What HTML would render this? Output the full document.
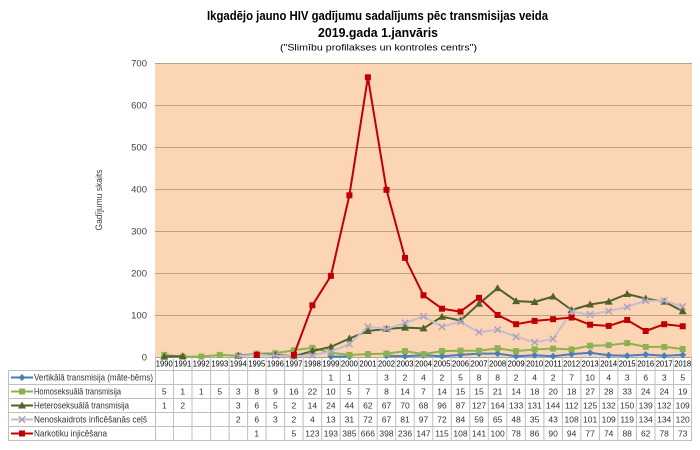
<!DOCTYPE html>
<html><head><meta charset="utf-8"><style>
html,body{margin:0;padding:0;background:#fff;}
svg{display:block;font-family:"Liberation Sans",sans-serif;}
</style></head><body>
<svg width="700" height="450" viewBox="0 0 700 450" xmlns="http://www.w3.org/2000/svg">
<defs>
<path id="dm" d="M0,-3.5L3.5,0L0,3.5L-3.5,0Z"/>
<rect id="sq" x="-3" y="-3" width="6" height="6"/>
<path id="tr" d="M0,-4L4,3L-4,3Z"/>
<path id="cx" d="M-3.2,-3.2L3.2,3.2M3.2,-3.2L-3.2,3.2" fill="none"/>
</defs>
<rect width="700" height="450" fill="#fff"/>
<!-- titles -->
<text x="207" y="20" font-size="12.5" font-weight="bold" textLength="341" lengthAdjust="spacingAndGlyphs" fill="#000">Ikgadējo jauno HIV gadījumu sadalījums pēc transmisijas veida</text>
<text x="318" y="37" font-size="12.5" font-weight="bold" textLength="120" lengthAdjust="spacingAndGlyphs" fill="#000">2019.gada 1.janvāris</text>
<text x="280" y="50.5" font-size="9.5" textLength="197" lengthAdjust="spacingAndGlyphs" fill="#000">("Slimību profilakses un kontroles centrs")</text>
<!-- plot area -->
<rect x="155" y="63" width="537" height="294" fill="#FCD5B4"/>
<g stroke="#BBA08C" stroke-width="1">
<line x1="155" y1="63.5" x2="692" y2="63.5"/>
<line x1="155" y1="105.5" x2="692" y2="105.5"/>
<line x1="155" y1="147.5" x2="692" y2="147.5"/>
<line x1="155" y1="189.5" x2="692" y2="189.5"/>
<line x1="155" y1="231.5" x2="692" y2="231.5"/>
<line x1="155" y1="273.5" x2="692" y2="273.5"/>
<line x1="155" y1="315.5" x2="692" y2="315.5"/>
</g>
<line x1="155" y1="357.5" x2="692" y2="357.5" stroke="#A6A6A6"/>
<!-- y ticks -->
<g font-size="9.5" fill="#404040" text-anchor="end">
<text x="147" y="66.5">700</text>
<text x="147" y="108.5">600</text>
<text x="147" y="150.5">500</text>
<text x="147" y="192.5">400</text>
<text x="147" y="234.5">300</text>
<text x="147" y="276.5">200</text>
<text x="147" y="318.5">100</text>
<text x="147" y="360.5">0</text>
</g>
<text transform="translate(102,200) rotate(-90)" font-size="9" text-anchor="middle" textLength="61" lengthAdjust="spacingAndGlyphs" fill="#404040">Gadījumu skaits</text>
<!-- table grid -->
<g stroke="#BFBFBF" stroke-width="1" fill="none">
<path d="M8.5,370.5H692M8.5,384.5H692M8.5,398.5H692M8.5,412.5H692M8.5,426.5H692M8.5,440.5H692M8.5,370.5V440.5"/>
<path d="M155.5,357V440.5M173.5,357V440.5M192,357V440.5M210.6,357V440.5M229.1,357V440.5M247.6,357V440.5M266.1,357V440.5M284.6,357V440.5M303.1,357V440.5M321.7,357V440.5M340.2,357V440.5M358.7,357V440.5M377.2,357V440.5M395.7,357V440.5M414.2,357V440.5M432.8,357V440.5M451.3,357V440.5M469.8,357V440.5M488.3,357V440.5M506.8,357V440.5M525.3,357V440.5M543.9,357V440.5M562.4,357V440.5M580.9,357V440.5M599.4,357V440.5M617.9,357V440.5M636.4,357V440.5M655,357V440.5M673.5,357V440.5M691.5,357V440.5"/>
</g>
<!-- series: vertical -->
<g stroke="#4A7EBB" stroke-width="2" fill="none" stroke-linejoin="round">
<polyline points="330.9,356.6 349.4,356.6"/>
<polyline points="386.5,355.7 405.0,356.2 423.5,355.3 442.0,356.2 460.5,354.9 479.0,353.6 497.6,353.6 516.1,356.2 534.6,355.3 553.1,356.2 571.6,354.1 590.1,352.8 608.7,355.3 627.2,355.7 645.7,354.5 664.2,355.7 682.7,354.9"/>
</g>
<g fill="#4A7EBB">
<use href="#dm" x="330.9" y="356.6"/><use href="#dm" x="349.4" y="356.6"/><use href="#dm" x="386.5" y="355.7"/><use href="#dm" x="405" y="356.2"/><use href="#dm" x="423.5" y="355.3"/><use href="#dm" x="442" y="356.2"/><use href="#dm" x="460.5" y="354.9"/><use href="#dm" x="479" y="353.6"/><use href="#dm" x="497.6" y="353.6"/><use href="#dm" x="516.1" y="356.2"/><use href="#dm" x="534.6" y="355.3"/><use href="#dm" x="553.1" y="356.2"/><use href="#dm" x="571.6" y="354.1"/><use href="#dm" x="590.1" y="352.8"/><use href="#dm" x="608.7" y="355.3"/><use href="#dm" x="627.2" y="355.7"/><use href="#dm" x="645.7" y="354.5"/><use href="#dm" x="664.2" y="355.7"/><use href="#dm" x="682.7" y="354.9"/>
</g>
<!-- homo -->
<polyline fill="none" stroke="#8DB150" stroke-width="2" stroke-linejoin="round" points="164.3,354.9 182.8,356.6 201.3,356.6 219.8,354.9 238.3,355.7 256.8,353.6 275.4,353.2 293.9,350.3 312.4,347.8 330.9,352.8 349.4,354.9 367.9,354.1 386.5,353.6 405.0,351.1 423.5,354.1 442.0,351.1 460.5,350.7 479.0,350.7 497.6,348.2 516.1,351.1 534.6,349.4 553.1,348.6 571.6,349.4 590.1,345.7 608.7,345.2 627.2,343.1 645.7,346.9 664.2,346.9 682.7,349.0"/>
<g fill="#8DB150">
<use href="#sq" x="164.3" y="354.9"/><use href="#sq" x="182.8" y="356.6"/><use href="#sq" x="201.3" y="356.6"/><use href="#sq" x="219.8" y="354.9"/><use href="#sq" x="238.3" y="355.7"/><use href="#sq" x="256.8" y="353.6"/><use href="#sq" x="275.4" y="353.2"/><use href="#sq" x="293.9" y="350.3"/><use href="#sq" x="312.4" y="347.8"/><use href="#sq" x="330.9" y="352.8"/><use href="#sq" x="349.4" y="354.9"/><use href="#sq" x="367.9" y="354.1"/><use href="#sq" x="386.5" y="353.6"/><use href="#sq" x="405" y="351.1"/><use href="#sq" x="423.5" y="354.1"/><use href="#sq" x="442" y="351.1"/><use href="#sq" x="460.5" y="350.7"/><use href="#sq" x="479" y="350.7"/><use href="#sq" x="497.6" y="348.2"/><use href="#sq" x="516.1" y="351.1"/><use href="#sq" x="534.6" y="349.4"/><use href="#sq" x="553.1" y="348.6"/><use href="#sq" x="571.6" y="349.4"/><use href="#sq" x="590.1" y="345.7"/><use href="#sq" x="608.7" y="345.2"/><use href="#sq" x="627.2" y="343.1"/><use href="#sq" x="645.7" y="346.9"/><use href="#sq" x="664.2" y="346.9"/><use href="#sq" x="682.7" y="349"/>
</g>
<!-- hetero -->
<g stroke="#4F6228" stroke-width="2" fill="none" stroke-linejoin="round">
<polyline points="164.3,356.6 182.8,356.2"/>
<polyline points="238.3,355.7 256.8,354.5 275.4,354.9 293.9,356.2 312.4,351.1 330.9,346.9 349.4,338.5 367.9,331.0 386.5,328.9 405.0,327.6 423.5,328.4 442.0,316.7 460.5,320.5 479.0,303.7 497.6,288.1 516.1,301.1 534.6,302.0 553.1,296.5 571.6,310.0 590.1,304.5 608.7,301.6 627.2,294.0 645.7,298.6 664.2,301.6 682.7,311.2"/>
</g>
<g fill="#4F6228">
<use href="#tr" x="164.3" y="356.6"/><use href="#tr" x="182.8" y="356.2"/><use href="#tr" x="238.3" y="355.7"/><use href="#tr" x="256.8" y="354.5"/><use href="#tr" x="275.4" y="354.9"/><use href="#tr" x="293.9" y="356.2"/><use href="#tr" x="312.4" y="351.1"/><use href="#tr" x="330.9" y="346.9"/><use href="#tr" x="349.4" y="338.5"/><use href="#tr" x="367.9" y="331"/><use href="#tr" x="386.5" y="328.9"/><use href="#tr" x="405" y="327.6"/><use href="#tr" x="423.5" y="328.4"/><use href="#tr" x="442" y="316.7"/><use href="#tr" x="460.5" y="320.5"/><use href="#tr" x="479" y="303.7"/><use href="#tr" x="497.6" y="288.1"/><use href="#tr" x="516.1" y="301.1"/><use href="#tr" x="534.6" y="302"/><use href="#tr" x="553.1" y="296.5"/><use href="#tr" x="571.6" y="310"/><use href="#tr" x="590.1" y="304.5"/><use href="#tr" x="608.7" y="301.6"/><use href="#tr" x="627.2" y="294"/><use href="#tr" x="645.7" y="298.6"/><use href="#tr" x="664.2" y="301.6"/><use href="#tr" x="682.7" y="311.2"/>
</g>
<!-- neno -->
<polyline fill="none" stroke="#C6BCD2" stroke-width="2" stroke-linejoin="round" points="238.3,356.2 256.8,354.5 275.4,355.7 293.9,356.2 312.4,355.3 330.9,351.5 349.4,344.0 367.9,326.8 386.5,328.9 405.0,323.0 423.5,316.3 442.0,326.8 460.5,321.7 479.0,332.2 497.6,329.7 516.1,336.8 534.6,342.3 553.1,338.9 571.6,311.6 590.1,314.6 608.7,311.2 627.2,307.0 645.7,300.7 664.2,300.7 682.7,306.6"/>
<g stroke="#A9A0B8" stroke-width="1.4">
<use href="#cx" x="238.3" y="356.2"/><use href="#cx" x="256.8" y="354.5"/><use href="#cx" x="275.4" y="355.7"/><use href="#cx" x="293.9" y="356.2"/><use href="#cx" x="312.4" y="355.3"/><use href="#cx" x="330.9" y="351.5"/><use href="#cx" x="349.4" y="344"/><use href="#cx" x="367.9" y="326.8"/><use href="#cx" x="386.5" y="328.9"/><use href="#cx" x="405" y="323"/><use href="#cx" x="423.5" y="316.3"/><use href="#cx" x="442" y="326.8"/><use href="#cx" x="460.5" y="321.7"/><use href="#cx" x="479" y="332.2"/><use href="#cx" x="497.6" y="329.7"/><use href="#cx" x="516.1" y="336.8"/><use href="#cx" x="534.6" y="342.3"/><use href="#cx" x="553.1" y="338.9"/><use href="#cx" x="571.6" y="311.6"/><use href="#cx" x="590.1" y="314.6"/><use href="#cx" x="608.7" y="311.2"/><use href="#cx" x="627.2" y="307"/><use href="#cx" x="645.7" y="300.7"/><use href="#cx" x="664.2" y="300.7"/><use href="#cx" x="682.7" y="306.6"/>
</g>
<!-- narko -->
<polyline fill="none" stroke="#C00000" stroke-width="2" stroke-linejoin="round" points="293.9,354.9 312.4,305.3 330.9,275.9 349.4,195.3 367.9,77.3 386.5,189.8 405.0,257.9 423.5,295.3 442.0,308.7 460.5,311.6 479.0,297.8 497.6,315.0 516.1,324.2 534.6,320.9 553.1,319.2 571.6,317.5 590.1,324.7 608.7,325.9 627.2,320.0 645.7,331.0 664.2,324.2 682.7,326.3"/>
<g fill="#C00000">
<use href="#sq" x="256.8" y="355"/><use href="#sq" x="293.9" y="354.9"/><use href="#sq" x="312.4" y="305.3"/><use href="#sq" x="330.9" y="275.9"/><use href="#sq" x="349.4" y="195.3"/><use href="#sq" x="367.9" y="77.3"/><use href="#sq" x="386.5" y="189.8"/><use href="#sq" x="405" y="257.9"/><use href="#sq" x="423.5" y="295.3"/><use href="#sq" x="442" y="308.7"/><use href="#sq" x="460.5" y="311.6"/><use href="#sq" x="479" y="297.8"/><use href="#sq" x="497.6" y="315"/><use href="#sq" x="516.1" y="324.2"/><use href="#sq" x="534.6" y="320.9"/><use href="#sq" x="553.1" y="319.2"/><use href="#sq" x="571.6" y="317.5"/><use href="#sq" x="590.1" y="324.7"/><use href="#sq" x="608.7" y="325.9"/><use href="#sq" x="627.2" y="320"/><use href="#sq" x="645.7" y="331"/><use href="#sq" x="664.2" y="324.2"/><use href="#sq" x="682.7" y="326.3"/>
</g>
<!-- year labels -->
<g font-size="8.5" fill="#000" text-anchor="middle">
<text x="164.3" y="366.5" textLength="17" lengthAdjust="spacingAndGlyphs">1990</text>
<text x="182.8" y="366.5" textLength="17" lengthAdjust="spacingAndGlyphs">1991</text>
<text x="201.3" y="366.5" textLength="17" lengthAdjust="spacingAndGlyphs">1992</text>
<text x="219.8" y="366.5" textLength="17" lengthAdjust="spacingAndGlyphs">1993</text>
<text x="238.3" y="366.5" textLength="17" lengthAdjust="spacingAndGlyphs">1994</text>
<text x="256.8" y="366.5" textLength="17" lengthAdjust="spacingAndGlyphs">1995</text>
<text x="275.4" y="366.5" textLength="17" lengthAdjust="spacingAndGlyphs">1996</text>
<text x="293.9" y="366.5" textLength="17" lengthAdjust="spacingAndGlyphs">1997</text>
<text x="312.4" y="366.5" textLength="17" lengthAdjust="spacingAndGlyphs">1998</text>
<text x="330.9" y="366.5" textLength="17" lengthAdjust="spacingAndGlyphs">1999</text>
<text x="349.4" y="366.5" textLength="17" lengthAdjust="spacingAndGlyphs">2000</text>
<text x="367.9" y="366.5" textLength="17" lengthAdjust="spacingAndGlyphs">2001</text>
<text x="386.5" y="366.5" textLength="17" lengthAdjust="spacingAndGlyphs">2002</text>
<text x="405" y="366.5" textLength="17" lengthAdjust="spacingAndGlyphs">2003</text>
<text x="423.5" y="366.5" textLength="17" lengthAdjust="spacingAndGlyphs">2004</text>
<text x="442" y="366.5" textLength="17" lengthAdjust="spacingAndGlyphs">2005</text>
<text x="460.5" y="366.5" textLength="17" lengthAdjust="spacingAndGlyphs">2006</text>
<text x="479" y="366.5" textLength="17" lengthAdjust="spacingAndGlyphs">2007</text>
<text x="497.6" y="366.5" textLength="17" lengthAdjust="spacingAndGlyphs">2008</text>
<text x="516.1" y="366.5" textLength="17" lengthAdjust="spacingAndGlyphs">2009</text>
<text x="534.6" y="366.5" textLength="17" lengthAdjust="spacingAndGlyphs">2010</text>
<text x="553.1" y="366.5" textLength="17" lengthAdjust="spacingAndGlyphs">2011</text>
<text x="571.6" y="366.5" textLength="17" lengthAdjust="spacingAndGlyphs">2012</text>
<text x="590.1" y="366.5" textLength="17" lengthAdjust="spacingAndGlyphs">2013</text>
<text x="608.7" y="366.5" textLength="17" lengthAdjust="spacingAndGlyphs">2014</text>
<text x="627.2" y="366.5" textLength="17" lengthAdjust="spacingAndGlyphs">2015</text>
<text x="645.7" y="366.5" textLength="17" lengthAdjust="spacingAndGlyphs">2016</text>
<text x="664.2" y="366.5" textLength="17" lengthAdjust="spacingAndGlyphs">2017</text>
<text x="682.7" y="366.5" textLength="17" lengthAdjust="spacingAndGlyphs">2018</text>
</g>
<!-- legend keys -->
<g stroke-width="2">
<line x1="11" y1="377.5" x2="33" y2="377.5" stroke="#4A7EBB"/>
<line x1="11" y1="391.5" x2="33" y2="391.5" stroke="#8DB150"/>
<line x1="11" y1="405.5" x2="33" y2="405.5" stroke="#4F6228"/>
<line x1="11" y1="419.5" x2="33" y2="419.5" stroke="#C6BCD2"/>
<line x1="11" y1="433.5" x2="33" y2="433.5" stroke="#C00000"/>
</g>
<use href="#dm" x="22" y="377.5" fill="#4A7EBB"/>
<use href="#sq" x="22" y="391.5" fill="#8DB150"/>
<use href="#tr" x="22" y="405.5" fill="#4F6228"/>
<use href="#cx" x="22" y="419.5" stroke="#A9A0B8" stroke-width="1.4"/>
<use href="#sq" x="22" y="433.5" fill="#C00000"/>
<g font-size="9" fill="#333">
<text x="34" y="380.5" textLength="119" lengthAdjust="spacingAndGlyphs">Vertikālā transmisija (māte-bērns)</text>
<text x="34" y="394.5" textLength="87" lengthAdjust="spacingAndGlyphs">Homoseksuālā transmisija</text>
<text x="34" y="408.5" textLength="95" lengthAdjust="spacingAndGlyphs">Heteroseksuālā transmisija</text>
<text x="34" y="422.5" textLength="113" lengthAdjust="spacingAndGlyphs">Nenoskaidrots inficēšanās ceļš</text>
<text x="34" y="436.5" textLength="73" lengthAdjust="spacingAndGlyphs">Narkotiku injicēšana</text>
</g>
<!-- table values -->
<g font-size="8.5" fill="#333" text-anchor="middle">
<!-- vert -->
<text x="330.9" y="380.5">1</text><text x="349.4" y="380.5">1</text><text x="386.5" y="380.5">3</text><text x="405" y="380.5">2</text><text x="423.5" y="380.5">4</text><text x="442" y="380.5">2</text><text x="460.5" y="380.5">5</text><text x="479" y="380.5">8</text><text x="497.6" y="380.5">8</text><text x="516.1" y="380.5">2</text><text x="534.6" y="380.5">4</text><text x="553.1" y="380.5">2</text><text x="571.6" y="380.5">7</text><text x="590.1" y="380.5">10</text><text x="608.7" y="380.5">4</text><text x="627.2" y="380.5">3</text><text x="645.7" y="380.5">6</text><text x="664.2" y="380.5">3</text><text x="682.7" y="380.5">5</text>
<!-- homo -->
<text x="164.3" y="394.5">5</text><text x="182.8" y="394.5">1</text><text x="201.3" y="394.5">1</text><text x="219.8" y="394.5">5</text><text x="238.3" y="394.5">3</text><text x="256.8" y="394.5">8</text><text x="275.4" y="394.5">9</text><text x="293.9" y="394.5">16</text><text x="312.4" y="394.5">22</text><text x="330.9" y="394.5">10</text><text x="349.4" y="394.5">5</text><text x="367.9" y="394.5">7</text><text x="386.5" y="394.5">8</text><text x="405" y="394.5">14</text><text x="423.5" y="394.5">7</text><text x="442" y="394.5">14</text><text x="460.5" y="394.5">15</text><text x="479" y="394.5">15</text><text x="497.6" y="394.5">21</text><text x="516.1" y="394.5">14</text><text x="534.6" y="394.5">18</text><text x="553.1" y="394.5">20</text><text x="571.6" y="394.5">18</text><text x="590.1" y="394.5">27</text><text x="608.7" y="394.5">28</text><text x="627.2" y="394.5">33</text><text x="645.7" y="394.5">24</text><text x="664.2" y="394.5">24</text><text x="682.7" y="394.5">19</text>
<!-- hetero -->
<text x="164.3" y="408.5">1</text><text x="182.8" y="408.5">2</text><text x="238.3" y="408.5">3</text><text x="256.8" y="408.5">6</text><text x="275.4" y="408.5">5</text><text x="293.9" y="408.5">2</text><text x="312.4" y="408.5">14</text><text x="330.9" y="408.5">24</text><text x="349.4" y="408.5">44</text><text x="367.9" y="408.5">62</text><text x="386.5" y="408.5">67</text><text x="405" y="408.5">70</text><text x="423.5" y="408.5">68</text><text x="442" y="408.5">96</text><text x="460.5" y="408.5">87</text><text x="479" y="408.5">127</text><text x="497.6" y="408.5">164</text><text x="516.1" y="408.5">133</text><text x="534.6" y="408.5">131</text><text x="553.1" y="408.5">144</text><text x="571.6" y="408.5">112</text><text x="590.1" y="408.5">125</text><text x="608.7" y="408.5">132</text><text x="627.2" y="408.5">150</text><text x="645.7" y="408.5">139</text><text x="664.2" y="408.5">132</text><text x="682.7" y="408.5">109</text>
<!-- neno -->
<text x="238.3" y="422.5">2</text><text x="256.8" y="422.5">6</text><text x="275.4" y="422.5">3</text><text x="293.9" y="422.5">2</text><text x="312.4" y="422.5">4</text><text x="330.9" y="422.5">13</text><text x="349.4" y="422.5">31</text><text x="367.9" y="422.5">72</text><text x="386.5" y="422.5">67</text><text x="405" y="422.5">81</text><text x="423.5" y="422.5">97</text><text x="442" y="422.5">72</text><text x="460.5" y="422.5">84</text><text x="479" y="422.5">59</text><text x="497.6" y="422.5">65</text><text x="516.1" y="422.5">48</text><text x="534.6" y="422.5">35</text><text x="553.1" y="422.5">43</text><text x="571.6" y="422.5">108</text><text x="590.1" y="422.5">101</text><text x="608.7" y="422.5">109</text><text x="627.2" y="422.5">119</text><text x="645.7" y="422.5">134</text><text x="664.2" y="422.5">134</text><text x="682.7" y="422.5">120</text>
<!-- narko -->
<text x="256.8" y="436.5">1</text><text x="293.9" y="436.5">5</text><text x="312.4" y="436.5">123</text><text x="330.9" y="436.5">193</text><text x="349.4" y="436.5">385</text><text x="367.9" y="436.5">666</text><text x="386.5" y="436.5">398</text><text x="405" y="436.5">236</text><text x="423.5" y="436.5">147</text><text x="442" y="436.5">115</text><text x="460.5" y="436.5">108</text><text x="479" y="436.5">141</text><text x="497.6" y="436.5">100</text><text x="516.1" y="436.5">78</text><text x="534.6" y="436.5">86</text><text x="553.1" y="436.5">90</text><text x="571.6" y="436.5">94</text><text x="590.1" y="436.5">77</text><text x="608.7" y="436.5">74</text><text x="627.2" y="436.5">88</text><text x="645.7" y="436.5">62</text><text x="664.2" y="436.5">78</text><text x="682.7" y="436.5">73</text>
</g>
</svg>
</body></html>
